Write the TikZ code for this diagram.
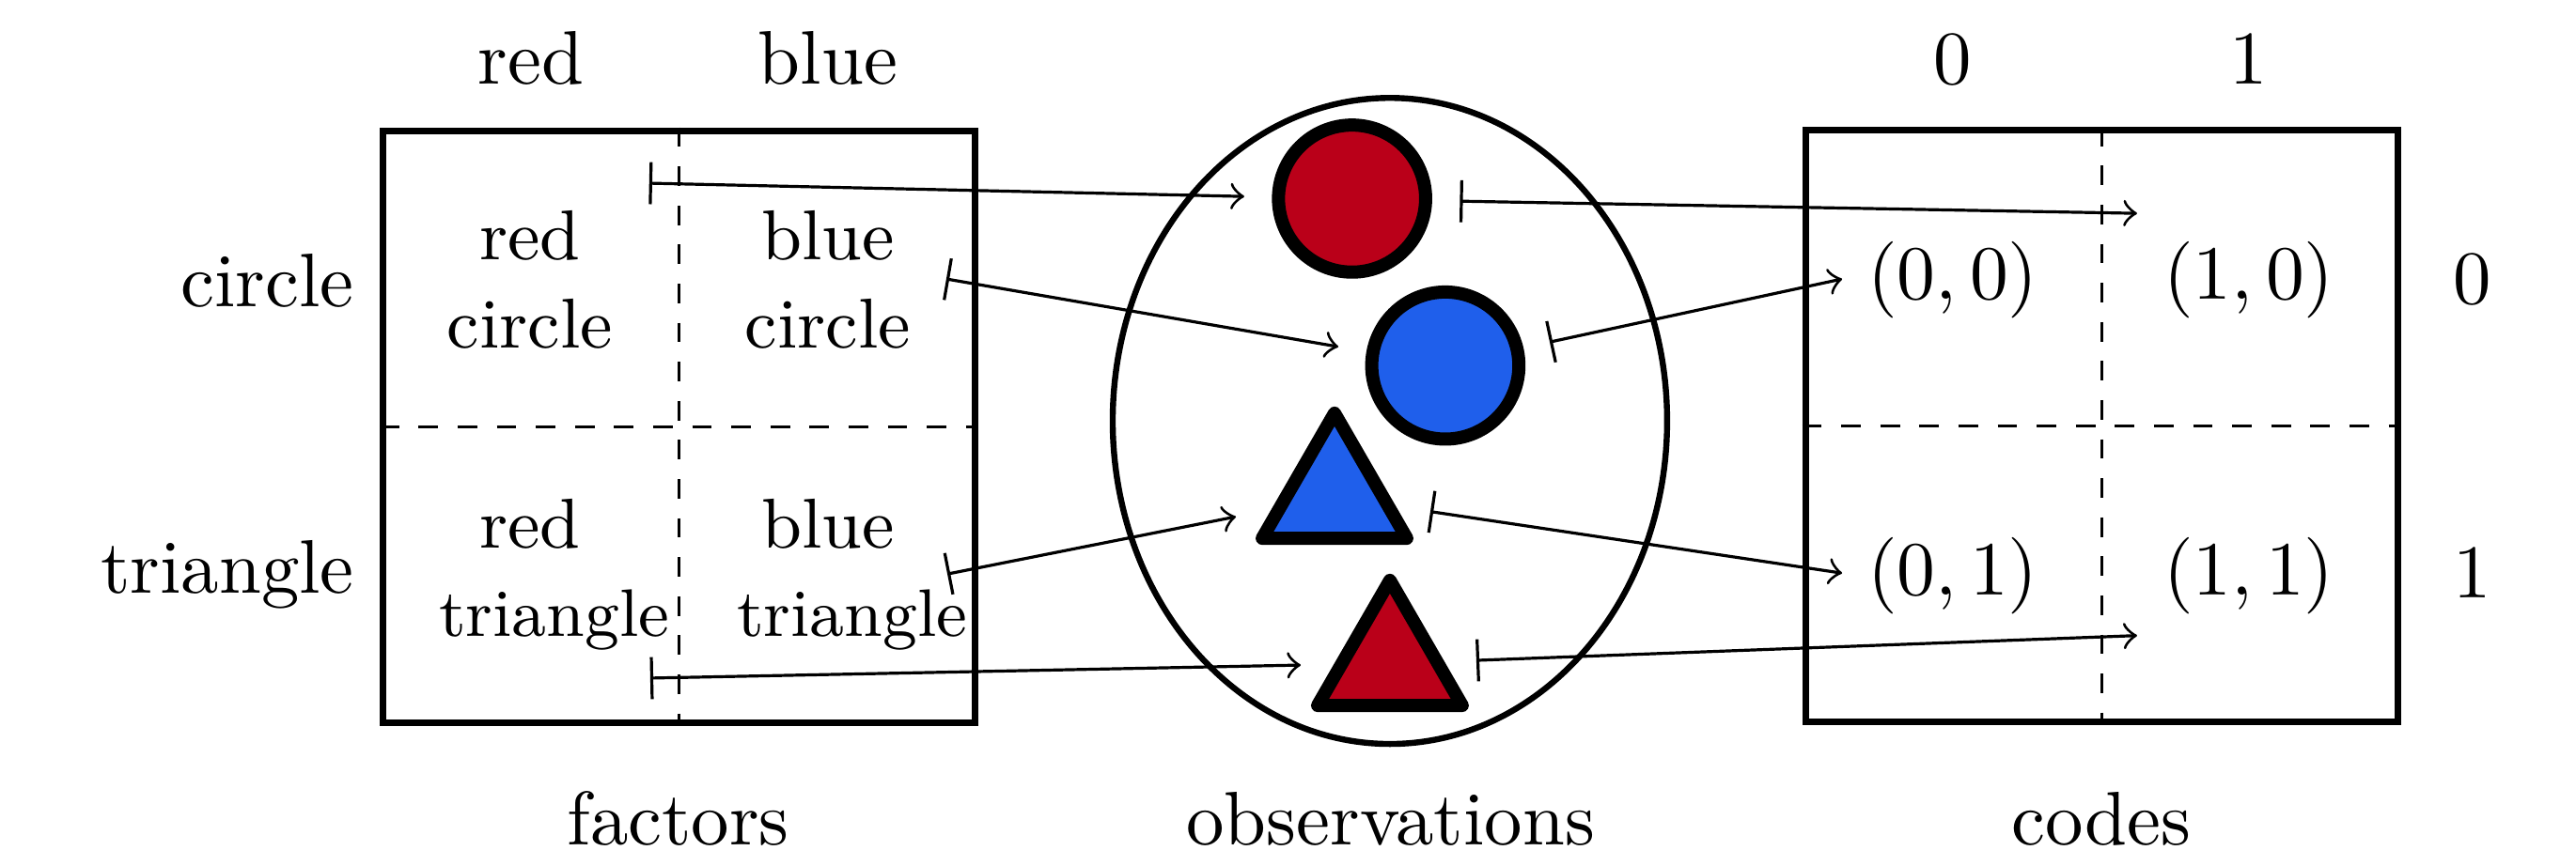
\documentclass[tikz,border=0pt]{standalone}
\usetikzlibrary{shapes.geometric}
\definecolor{shapered}{HTML}{BA0019}
\definecolor{shapeblue}{HTML}{1F5FEB}
\newcommand{\longword}{\mbox{\fontsize{8.95}{11.75}\selectfont triangle}}
\begin{document}
\begin{tikzpicture}[
    every node/.style={font=\fontsize{10.1}{12}\selectfont},
    gridbox/.style={draw, line width=0.9pt, minimum size=2.77cm, inner sep=0pt},
    divider/.style={dashed, dash pattern=on 2.6pt off 2.6pt},
    cloud/.style={ellipse, draw, thick, minimum width=2.592cm, minimum height=3.022cm, inner sep=0pt},
    disc/.style={circle, draw, line width=1.75pt, minimum size=0.688cm, inner sep=0pt},
    tri/.style={regular polygon, regular polygon sides=3, draw, line width=1.75pt, line join=round, minimum size=0.781cm, inner sep=0pt},
    cell/.style={align=flush center, text width=0.852cm, font=\fontsize{9.4}{11.75}\selectfont},
    label/.style={anchor=base},
    mathlabel/.style={anchor=base, scale=1.02},
    rowlabel/.style={anchor=base east},
    arrow/.style={|->}
]
    \useasboundingbox (0,0) rectangle (12.043,4.047);

    \node[gridbox] (factors) at (3.175,2.05) {};
    \node[gridbox] (codes) at (9.826,2.054) {};
    \draw[divider] (factors.north) -- (factors.south);
    \draw[divider] (factors.west) -- (factors.east);
    \draw[divider] (codes.north) -- (codes.south);
    \draw[divider] (codes.west) -- (codes.east);

    \node[cloud] (obs) at (6.498,2.078) {};
    \node[disc, fill=shapered] (redcircle) at (6.321,3.118) {};
    \node[disc, fill=shapeblue] (bluecircle) at (6.757,2.337) {};
    \node[tri, fill=shapeblue] (bluetri) at (6.239,1.724) {};
    \node[tri, fill=shapered] (redtri) at (6.498,0.942) {};

    % factor cells
    \node[cell] (rc) at (2.478,2.739) {red\\circle};
    \node[cell] (bc) at (3.871,2.739) {blue\\circle};
    \node[cell] (rt) at (2.478,1.357) {red\\\longword};
    \node[cell] (bt) at (3.871,1.357) {blue\\\longword};

    % code cells
    \node[mathlabel] (c00) at (9.130,2.647) {$(0,0)$};
    \node[mathlabel] (c10) at (10.514,2.647) {$(1,0)$};
    \node[mathlabel] (c01) at (9.130,1.265) {$(0,1)$};
    \node[mathlabel] (c11) at (10.514,1.265) {$(1,1)$};

    % headers
    \node[label] (redhead) at (2.482,3.654) {red};
    \node[label] (bluehead) at (3.871,3.654) {blue};
    \node[label] (zerohead) at (9.130,3.654) {0};
    \node[label] (onehead) at (10.514,3.654) {1};
    \node[rowlabel] (circlerow) at (1.780,2.614) {circle};
    \node[rowlabel] (trianglerow) at (1.780,1.271) {triangle};
    \node[label] (zerorow) at (11.557,2.627) {0};
    \node[label] (onerow) at (11.557,1.250) {1};
    \node[label] (factorslabel) at (3.170,0.095) {factors};
    \node[label] (obslabel) at (6.501,0.095) {observations};
    \node[label] (codeslabel) at (9.824,0.095) {codes};

    % arrow ends
    \coordinate (rcfrom) at (3.035,3.190);
    \coordinate (rcto) at (5.817,3.128);
    \coordinate (bcfrom) at (4.424,2.742);
    \coordinate (bcto) at (6.257,2.425);
    \coordinate (btfrom) at (4.429,1.362);
    \coordinate (btto) at (5.778,1.630);
    \coordinate (rtfrom) at (3.040,0.875);
    \coordinate (rtto) at (6.081,0.936);
    \coordinate (rcout) at (6.825,3.106);
    \coordinate (rccode) at (9.991,3.049);
    \coordinate (bcout) at (7.245,2.447);
    \coordinate (bccode) at (8.612,2.742);
    \coordinate (btout) at (6.687,1.654);
    \coordinate (btcode) at (8.612,1.366);
    \coordinate (rtout) at (6.902,0.958);
    \coordinate (rtcode) at (9.991,1.074);

    \draw[arrow] (rcfrom) -- (rcto);
    \draw[arrow] (bcfrom) -- (bcto);
    \draw[arrow] (btfrom) -- (btto);
    \draw[arrow] (rtfrom) -- (rtto);
    \draw[arrow] (rcout) -- (rccode);
    \draw[arrow] (bcout) -- (bccode);
    \draw[arrow] (btout) -- (btcode);
    \draw[arrow] (rtout) -- (rtcode);
\end{tikzpicture}
\end{document}
